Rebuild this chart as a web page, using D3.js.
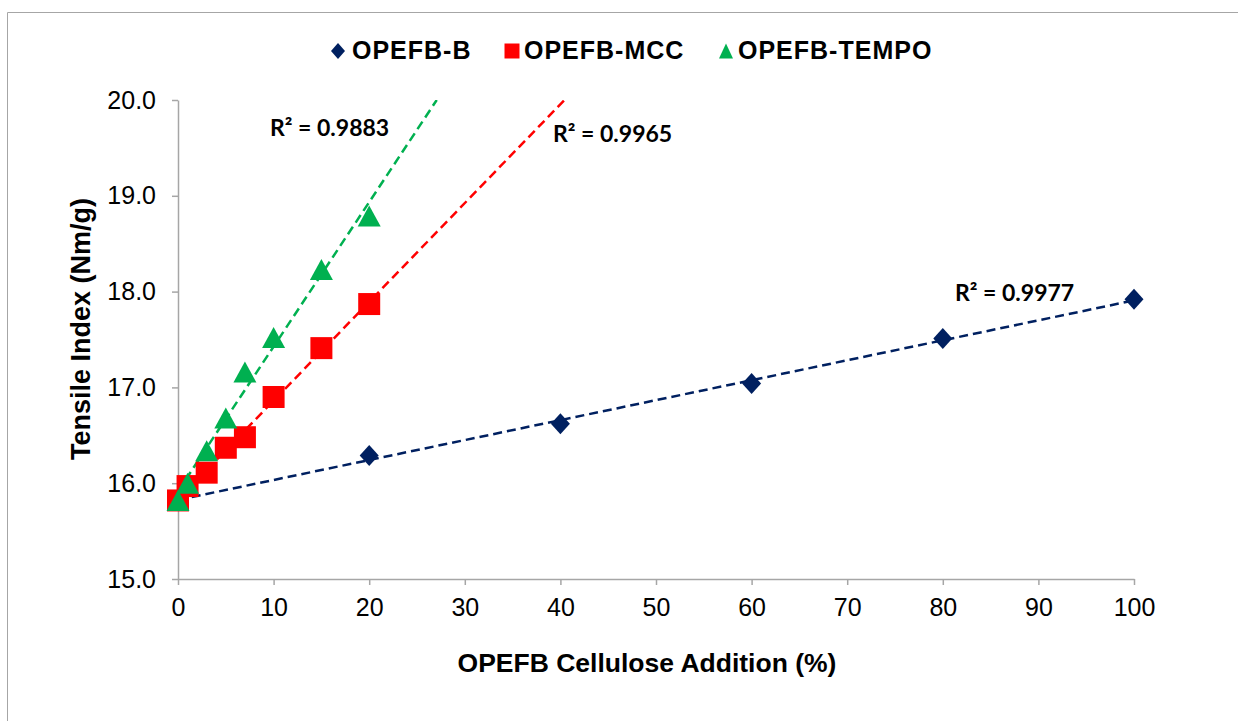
<!DOCTYPE html>
<html>
<head>
<meta charset="utf-8">
<title>Tensile Index</title>
<script src="https://d3js.org/d3.v7.min.js"></script>
<style>
  body { margin: 0; background: #fff; }
  text { font-family: "Liberation Sans", Arial, sans-serif; }
</style>
</head>
<body>
<script>
// data
const xB = [0, 20, 40, 60, 80, 100];
const yB = [15.82, 16.29, 16.62, 17.04, 17.51, 17.92];
const xMCC = [0, 1, 3, 5, 7, 10, 15, 20];
const yMCC = [15.82, 15.97, 16.11, 16.37, 16.48, 16.90, 17.41, 17.87];
const xTEMPO = [0, 1, 3, 5, 7, 10, 15, 20];
const yTEMPO = [15.82, 16.00, 16.34, 16.68, 17.16, 17.52, 18.23, 18.79];
const r2Labels = ["R² = 0.9977", "R² = 0.9965", "R² = 0.9883"];
const xTicks = [0, 10, 20, 30, 40, 50, 60, 70, 80, 90, 100];
const yTicks = [15, 16, 17, 18, 19, 20];

const w = 1238, h = 721;
const margin = { left: 178, right: 104, top: 100, bottom: 142 };

// diamond a bit taller than wide, like the Excel marker
function diamond(hw, hh) {
  return { draw(ctx) { ctx.moveTo(0, -hh); ctx.lineTo(hw, 0); ctx.lineTo(0, hh); ctx.lineTo(-hw, 0); ctx.closePath(); } };
}
function triangle(hw, hh) {
  return { draw(ctx) { ctx.moveTo(0, -hh); ctx.lineTo(hw, hh); ctx.lineTo(-hw, hh); ctx.closePath(); } };
}
function square(r) {
  return { draw(ctx) { ctx.rect(-r, -r, 2 * r, 2 * r); } };
}

const series = [
  { name: "OPEFB-B", xs: xB, ys: yB, color: "#002060", mark: diamond(9.5, 10.5), key: diamond(7, 8), r2: r2Labels[0], lx: 955, ly: 301 },
  { name: "OPEFB-MCC", xs: xMCC, ys: yMCC, color: "#ff0000", mark: square(11), key: square(7.5), r2: r2Labels[1], lx: 553, ly: 142 },
  { name: "OPEFB-TEMPO", xs: xTEMPO, ys: yTEMPO, color: "#00b050", mark: triangle(11.5, 10.5), key: triangle(7, 7.5), r2: r2Labels[2], lx: 270, ly: 136 }
];

const svg = d3.select("body").append("svg")
  .attr("width", w).attr("height", h);

// outer chart border (only left/top visible)
svg.append("path")
  .attr("d", "M7.5," + h + "V12.5H" + w)
  .attr("fill", "none").attr("stroke", "#a6a6a6").attr("stroke-width", 1);

const x = d3.scaleLinear().domain([0, 100]).range([margin.left, w - margin.right]);
const y = d3.scaleLinear().domain([15, 20]).range([h - margin.bottom, margin.top]);

const xAxis = svg.append("g")
  .attr("transform", "translate(0," + y(15) + ")")
  .call(d3.axisBottom(x).tickValues(xTicks).tickSize(6).tickSizeOuter(0).tickPadding(13));
const yAxis = svg.append("g")
  .attr("transform", "translate(" + x(0) + ",0)")
  .call(d3.axisLeft(y).tickValues(yTicks).tickFormat(d3.format(".1f")).tickSize(6).tickSizeOuter(0).tickPadding(16));

[xAxis, yAxis].forEach(g => {
  g.selectAll("path, line").attr("stroke", "#a6a6a6").attr("stroke-width", 1.5);
  g.selectAll("text").attr("font-size", 25).attr("fill", "#000")
    .style("font-family", "'Liberation Sans', Arial, sans-serif");
});

svg.append("text")
  .attr("x", 647).attr("y", 672)
  .attr("text-anchor", "middle").attr("font-size", 26.5).attr("font-weight", "bold")
  .text("OPEFB Cellulose Addition (%)");

svg.append("text")
  .attr("transform", "translate(90,329) rotate(-90)")
  .attr("text-anchor", "middle").attr("font-size", 27).attr("font-weight", "bold")
  .text("Tensile Index (Nm/g)");

// linear trendlines, clipped to plot area
svg.append("clipPath").attr("id", "plot")
  .append("rect")
  .attr("x", x(0)).attr("y", y(20))
  .attr("width", x(100) - x(0)).attr("height", y(15) - y(20));

function fit(xs, ys) {
  const mx = d3.mean(xs), my = d3.mean(ys);
  const sxy = d3.sum(xs, (v, i) => (v - mx) * (ys[i] - my));
  const sxx = d3.sum(xs, v => (v - mx) * (v - mx));
  const b = sxy / sxx;
  return { a: my - b * mx, b: b };
}

series.forEach(s => {
  const f = fit(s.xs, s.ys);
  const x1 = Math.min(100, (20 - f.a) / f.b);
  svg.append("line")
    .attr("clip-path", "url(#plot)")
    .attr("x1", x(0)).attr("y1", y(f.a))
    .attr("x2", x(x1)).attr("y2", y(f.a + f.b * x1))
    .attr("stroke", s.color).attr("stroke-width", 2.5)
    .attr("stroke-dasharray", "9,5");
});

// markers
series.forEach(s => {
  const pts = s.xs.map((v, i) => [v, s.ys[i]]);
  svg.append("g").selectAll("path")
    .data(pts).enter().append("path")
    .attr("d", d3.symbol().type(s.mark))
    .attr("transform", d => "translate(" + x(d[0]) + "," + y(d[1]) + ")")
    .attr("fill", s.color);
});

// R² labels
series.forEach(s => {
  svg.append("text")
    .attr("x", s.lx).attr("y", s.ly)
    .attr("font-size", 23).attr("font-weight", "bold")
    .style("font-family", "Lato, 'Open Sans', sans-serif")
    .text(s.r2);
});

// legend
const keyX = [338, 512, 726];
const labelX = [352, 524, 738];
series.forEach((s, i) => {
  svg.append("path")
    .attr("d", d3.symbol().type(s.key))
    .attr("transform", "translate(" + keyX[i] + ",51)")
    .attr("fill", s.color);
  svg.append("text")
    .attr("x", labelX[i]).attr("y", 59)
    .attr("font-size", 25).attr("font-weight", "bold")
    .attr("letter-spacing", 1)
    .text(s.name);
});
</script>
</body>
</html>
